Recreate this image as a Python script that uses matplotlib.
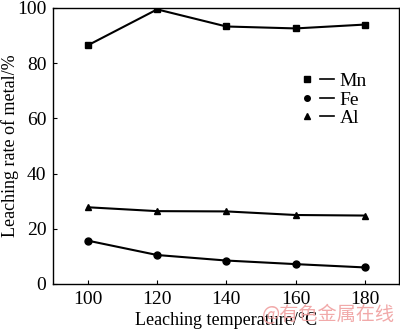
import matplotlib
matplotlib.use("Agg")
import matplotlib.pyplot as plt
from matplotlib.lines import Line2D
from matplotlib.legend_handler import HandlerTuple

temperature = [100, 120, 140, 160, 180]
mn_rate = [86.5, 99.5, 93.3, 92.6, 94.0]
fe_rate = [15.7, 10.5, 8.5, 7.2, 6.0]
al_rate = [27.8, 26.4, 26.3, 25.0, 24.8]
x_ticks = [100, 120, 140, 160, 180]
y_ticks = [0, 20, 40, 60, 80, 100]

plt.rcParams['font.family'] = ['Liberation Serif', 'DejaVu Serif']

fig = plt.figure(figsize=(4.0, 3.31), dpi=100)
ax = fig.add_axes([53.3 / 400, 1 - 284 / 331, (399.5 - 53.3) / 400, (284 - 8) / 331])

series = [(mn_rate, 's', 'Mn'), (fe_rate, 'o', 'Fe'), (al_rate, '^', 'Al')]
handles = []
labels = []
for vals, mk, name in series:
    ax.plot(temperature, vals, color='black', lw=1.5, marker=mk, ms=5)
    h_marker = Line2D([], [], color='black', marker=mk, ms=4, ls='none')
    h_line = Line2D([], [], color='black', lw=1.2)
    handles.append((h_marker, h_line))
    labels.append(name)

ax.set_xlim(90, 190)
ax.set_ylim(0, 100)
ax.set_xticks(x_ticks)
ax.set_yticks(y_ticks)
ax.tick_params(direction='in', length=3, width=0.8, labelsize=14, colors='black')
ax.tick_params(axis='x', pad=5)
ax.tick_params(axis='y', pad=5)
for s in ax.spines.values():
    s.set_linewidth(1.0)

ax.set_xlabel('Leaching temperature/°C', fontsize=13, labelpad=3)
ax.set_ylabel('Leaching rate of metal/%', fontsize=13)
ax.yaxis.set_label_coords((19 - 53.3) / 346.2, 0.5)

leg = ax.legend(handles, labels, handler_map={tuple: HandlerTuple(ndivide=None, pad=0.3)},
                loc='upper left', bbox_to_anchor=(0.69, 0.795), frameon=False,
                fontsize=14, handlelength=1.75, handletextpad=0.3, labelspacing=0.05,
                borderaxespad=0)

fig.text(262 / 400, 1 - 315 / 331, '@有色金属在线', fontsize=13.8, color='#f0a0a0', alpha=0.9,
         ha='left', va='center', family=['Noto Sans CJK SC', 'DejaVu Sans'])

fig.savefig('out.png', dpi=100)
